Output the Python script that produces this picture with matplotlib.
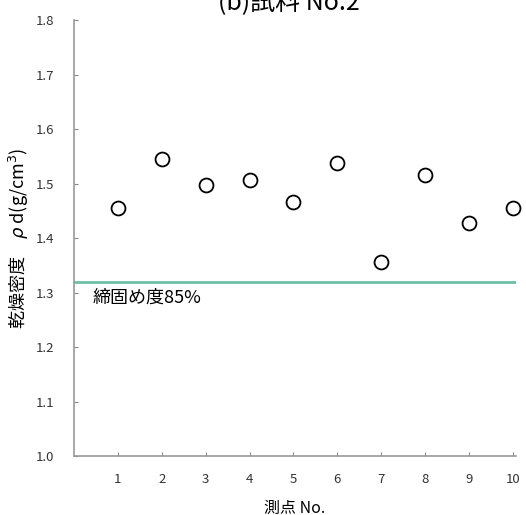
import matplotlib.pyplot as plt

plt.rcParams['font.family'] = ['Noto Sans CJK JP', 'DejaVu Sans']

# 測点と乾燥密度
sokuten = [1, 2, 3, 4, 5, 6, 7, 8, 9, 10]
kansou_mitsudo = [1.455, 1.545, 1.497, 1.506, 1.466, 1.538, 1.356, 1.516, 1.428, 1.455]
shimekatame_85 = 1.32
y_ticks = [1.0, 1.1, 1.2, 1.3, 1.4, 1.5, 1.6, 1.7, 1.8]

fig = plt.figure(figsize=(5.26, 5.15), dpi=100)
ax = fig.add_axes([0.1407, 0.1146, 0.840, 0.846])

ax.plot(sokuten, kansou_mitsudo, 'o', markersize=10, markerfacecolor='white',
        markeredgecolor='black', markeredgewidth=1.3, clip_on=False, zorder=3)
ax.axhline(shimekatame_85, color='#6cbfa8', linewidth=2)
ax.text(0.42, shimekatame_85 - 0.012, '締固め度85%', fontsize=13, va='top', ha='left')

ax.set_xlim(0, 10.07)
ax.set_ylim(1.0, 1.8)
ax.set_xticks(sokuten)
ax.set_yticks(y_ticks)
ax.set_yticklabels([f'{v:.1f}' for v in y_ticks])
ax.tick_params(direction='in', length=3, colors='#888888', labelcolor='#333333',
               labelsize=9.5)
ax.tick_params(axis='x', pad=12)
ax.tick_params(axis='y', pad=14)

for s in ['top', 'right']:
    ax.spines[s].set_visible(False)
for s in ['left', 'bottom']:
    ax.spines[s].set_color('#999999')
    ax.spines[s].set_linewidth(1.2)

ax.set_xlabel('測点 No.', fontsize=11.5, labelpad=10)
ax.set_ylabel('乾燥密度　$\\rho$ d(g/cm$^3$)', fontsize=13, labelpad=4)

fig.text(0.55, 1 - 10 / 515, '(b)試料 No.2', fontsize=18, ha='center', va='baseline')

fig.savefig('out.png', dpi=100)
